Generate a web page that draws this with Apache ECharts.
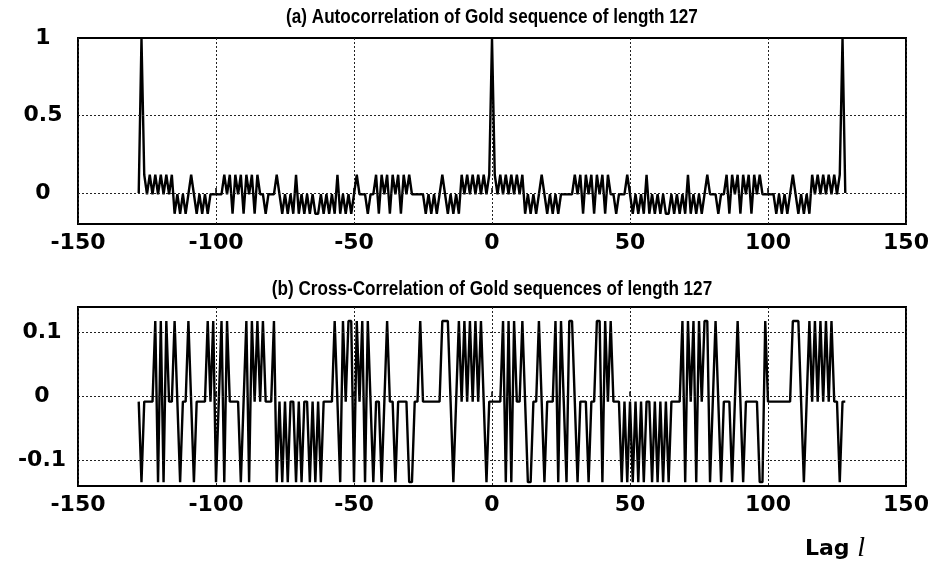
<!DOCTYPE html>
<html>
<head>
<meta charset="utf-8">
<script src="https://cdn.jsdelivr.net/npm/echarts@6/dist/echarts.min.js"></script>
<style>
  html, body { margin: 0; padding: 0; background: #fff; }
  #chart { width: 941px; height: 565px; }
</style>
</head>
<body>
<div id="chart"></div>
<script>
// Lag values shared by both panels
const lagStart = -128;

// (a) periodic autocorrelation of one Gold sequence, lags -128..128
const autoValues = [
  0, 1,
  0.118, -0.008, 0.118, -0.008, 0.118, -0.008, 0.118, -0.008, 0.118, -0.008,
  0.118, -0.134, -0.008, -0.134, -0.008, -0.134, -0.008, 0.118, -0.008, -0.134,
  -0.008, -0.134, -0.008, -0.134, -0.008, -0.008, -0.008, -0.008, -0.008, 0.118,
  -0.008, 0.118, -0.134, 0.118, -0.008, 0.118, -0.134, 0.118, -0.008, 0.118,
  -0.134, 0.118, -0.008, -0.008, -0.134, -0.008, -0.008, -0.008, 0.118, -0.008,
  -0.134, -0.008, -0.134, -0.008, -0.134, 0.118, -0.134, -0.008, -0.134, -0.008,
  -0.134, -0.008, -0.134,
  -0.134, -0.008, -0.134, -0.008, -0.134, -0.008, -0.134, 0.118, -0.134, -0.008,
  -0.134, -0.008, -0.134, -0.008, 0.118, -0.008, -0.008, -0.008, -0.134, -0.008,
  -0.008, 0.118, -0.134, 0.118, -0.008, 0.118, -0.134, 0.118, -0.008, 0.118,
  -0.134, 0.118, -0.008, 0.118, -0.008, -0.008, -0.008, -0.008, -0.008, -0.134,
  -0.008, -0.134, -0.008, -0.134, -0.008, 0.118, -0.008, -0.134, -0.008, -0.134,
  -0.008, -0.134, 0.118, -0.008, 0.118, -0.008, 0.118, -0.008, 0.118, -0.008,
  0.118, -0.008, 0.118,
  1,
  0.118, -0.008, 0.118, -0.008, 0.118, -0.008, 0.118, -0.008, 0.118, -0.008,
  0.118, -0.134, -0.008, -0.134, -0.008, -0.134, -0.008, 0.118, -0.008, -0.134,
  -0.008, -0.134, -0.008, -0.134, -0.008, -0.008, -0.008, -0.008, -0.008, 0.118,
  -0.008, 0.118, -0.134, 0.118, -0.008, 0.118, -0.134, 0.118, -0.008, 0.118,
  -0.134, 0.118, -0.008, -0.008, -0.134, -0.008, -0.008, -0.008, 0.118, -0.008,
  -0.134, -0.008, -0.134, -0.008, -0.134, 0.118, -0.134, -0.008, -0.134, -0.008,
  -0.134, -0.008, -0.134,
  -0.134, -0.008, -0.134, -0.008, -0.134, -0.008, -0.134, 0.118, -0.134, -0.008,
  -0.134, -0.008, -0.134, -0.008, 0.118, -0.008, -0.008, -0.008, -0.134, -0.008,
  -0.008, 0.118, -0.134, 0.118, -0.008, 0.118, -0.134, 0.118, -0.008, 0.118,
  -0.134, 0.118, -0.008, 0.118, -0.008, -0.008, -0.008, -0.008, -0.008, -0.134,
  -0.008, -0.134, -0.008, -0.134, -0.008, 0.118, -0.008, -0.134, -0.008, -0.134,
  -0.008, -0.134, 0.118, -0.008, 0.118, -0.008, 0.118, -0.008, 0.118, -0.008,
  0.118, -0.008, 0.118,
  1, 0
];

// (b) periodic cross-correlation of two Gold sequences, lags -128..128
const crossValues = [
  -0.008, -0.134, -0.008, -0.008, -0.008, -0.008, 0.118, -0.134, 0.118, -0.134,   // -128..-119
  0.118, -0.008, -0.008, 0.118, -0.008, -0.134, -0.008, -0.008, 0.118, -0.008,    // -118..-109
  -0.134, -0.008, -0.008, -0.008, -0.008, 0.118, -0.008, 0.118, -0.134, -0.008,   // -108..-99
  0.118, -0.134, 0.118, -0.008, -0.008, -0.008, -0.008, -0.134, -0.008, 0.118,    // -98..-89
  -0.134, 0.118, -0.008, 0.118, -0.008, 0.118, -0.008, -0.008, -0.008, 0.118,     // -88..-79
  -0.134, -0.008, -0.134, -0.008, -0.134, -0.008, -0.008, -0.134, -0.008, -0.134, // -78..-69
  -0.008, -0.008, -0.134, -0.008, -0.134, -0.008, -0.134, -0.008, -0.008, -0.008, // -68..-59
  -0.008, 0.118, -0.008, -0.134, 0.118, -0.008, 0.118, 0.118, -0.134, 0.118,      // -58..-49
  -0.008, 0.118, -0.134, 0.118, -0.008, -0.134, -0.008, -0.008, -0.134, -0.008,   // -48..-39
  0.118, -0.008, -0.008, -0.134, -0.008, -0.008, -0.008, -0.008, -0.134, -0.134,  // -38..-29
  -0.008, -0.008, 0.118, -0.008, -0.008, -0.008, -0.008, -0.008, -0.008, -0.008,  // -28..-19
  0.118, 0.118, 0.118, -0.008, -0.134, -0.008, 0.118, -0.008, 0.118, -0.008,     // -18..-9
  0.118, -0.008, 0.118, -0.008, 0.118, -0.008, -0.134, -0.008,                   // -8..-1
  -0.008, -0.008, -0.008, -0.008, 0.118, -0.134, 0.118, -0.134, 0.118, -0.008,    // 0..9
  -0.008, 0.118, -0.008, -0.134, -0.134, -0.008, -0.008, 0.118, -0.008, -0.134,   // 10..19
  -0.008, -0.008, -0.008, 0.118, -0.134, 0.118, -0.008, -0.134, 0.118, 0.118,     // 20..29
  -0.008, -0.134, -0.008, -0.008, -0.008, -0.134, -0.008, -0.008, 0.118, 0.118,   // 30..39
  -0.134, 0.118, -0.008, 0.118, -0.008, -0.008, -0.008, -0.134, -0.008, -0.134,   // 40..49
  -0.008, -0.134, -0.008, -0.134, -0.008, -0.134, -0.008, -0.008, -0.134, -0.008, // 50..59
  -0.134, -0.008, -0.134, -0.008, -0.134, -0.008, -0.008, -0.008, -0.008, 0.118,  // 60..69
  -0.134, 0.118, -0.008, 0.118, -0.134, 0.118, -0.008, 0.118, 0.118, -0.134,      // 70..79
  -0.008, 0.118, -0.008, -0.134, -0.008, -0.008, -0.008, -0.134, -0.008, 0.118,   // 80..89
  -0.008, -0.134, -0.008, -0.008, -0.008, -0.008, -0.008, -0.134, -0.134, 0.118,  // 90..99
  -0.008, -0.008, -0.008, -0.008, -0.008, -0.008, -0.008, -0.008, -0.008, 0.118,  // 100..109
  0.118, 0.118, -0.008, -0.134, -0.008, 0.118, -0.008, 0.118, -0.008, 0.118,      // 110..119
  -0.008, 0.118, -0.008, 0.118, -0.008, -0.008, -0.134, -0.008, -0.008            // 120..128
];

// Tick labels shown on each axis
const xTicks = [-150, -100, -50, 0, 50, 100, 150];
const autoYTicks = [0, 0.5, 1];
const crossYTicks = [-0.1, 0, 0.1];

const titleA = '(a) Autocorrelation of Gold sequence of length 127';
const titleB = '(b) Cross-Correlation of Gold sequences of length 127';

const TITLE_FONT = "'Liberation Sans', Arial, Helvetica, sans-serif";
const LABEL_FONT = "'DejaVu Sans', Verdana, sans-serif";

function pairs(values) {
  return values.map((v, i) => [lagStart + i, v]);
}

function yLabel(ticks) {
  return function (v) {
    for (const t of ticks) {
      if (Math.abs(v - t) < 1e-6) return String(t);
    }
    return '';
  };
}

function gridMarks(ticks) {
  return {
    silent: true,
    symbol: 'none',
    label: { show: false },
    lineStyle: { color: '#222', type: [2, 2], width: 1 },
    data: ticks.map(t => ({ yAxis: t }))
  };
}

const labelStyle = { color: '#000', fontSize: 22, fontWeight: 'bold', fontFamily: LABEL_FONT };

const xAxisBase = {
  type: 'value',
  min: -150,
  max: 150,
  interval: 50,
  axisLine: { show: false },
  axisTick: { show: true, inside: true, length: 5, lineStyle: { color: '#000', width: 1.5 } },
  axisLabel: Object.assign({}, labelStyle, {
    margin: 8,
    formatter: v => xTicks.includes(v) ? String(v) : ''
  }),
  splitLine: { show: true, lineStyle: { color: '#222', type: [2, 2], width: 1 } }
};

// Panel headings, narrowed horizontally around their centre
function titleText(text, y) {
  return {
    type: 'text', x: 492, y: y, scaleX: 0.815, silent: true,
    style: {
      text: text,
      textAlign: 'center', textVerticalAlign: 'middle',
      align: 'center', verticalAlign: 'middle',
      fontSize: 21, fontWeight: 'bold', fontFamily: TITLE_FONT, fill: '#000'
    }
  };
}

const option = {
  backgroundColor: '#fff',
  animation: false,
  grid: [
    { left: 78, right: 35, top: 38, height: 186, show: true, borderColor: '#000', borderWidth: 2, backgroundColor: '#fff' },
    { left: 78, right: 35, top: 307, height: 179, show: true, borderColor: '#000', borderWidth: 2, backgroundColor: '#fff' }
  ],
  xAxis: [
    Object.assign({}, xAxisBase, { gridIndex: 0 }),
    Object.assign({}, xAxisBase, { gridIndex: 1 })
  ],
  yAxis: [
    {
      gridIndex: 0, type: 'value', min: -0.2, max: 1, interval: 0.1,
      axisLine: { show: false }, axisTick: { show: false }, splitLine: { show: false },
      axisLabel: Object.assign({}, labelStyle, { align: 'center', margin: 35, formatter: yLabel(autoYTicks) })
    },
    {
      gridIndex: 1, type: 'value', min: -0.14, max: 0.14, interval: 0.02,
      axisLine: { show: false }, axisTick: { show: false }, splitLine: { show: false },
      axisLabel: Object.assign({}, labelStyle, { align: 'center', margin: 36, formatter: yLabel(crossYTicks) })
    }
  ],
  series: [
    {
      type: 'line', xAxisIndex: 0, yAxisIndex: 0,
      data: pairs(autoValues),
      showSymbol: false, symbol: 'none',
      lineStyle: { color: '#000', width: 2.4 },
      markLine: gridMarks([0, 0.5])
    },
    {
      type: 'line', xAxisIndex: 1, yAxisIndex: 1,
      data: pairs(crossValues),
      showSymbol: false, symbol: 'none',
      lineStyle: { color: '#000', width: 2.4 },
      markLine: gridMarks(crossYTicks)
    }
  ],
  graphic: [
    titleText(titleA, 17),
    titleText(titleB, 289),
    {
      type: 'text', left: 805, top: 535,
      style: {
        text: '{a|Lag }{b|l}',
        rich: {
          a: { fontSize: 22, fontWeight: 'bold', fontFamily: LABEL_FONT, fill: '#000' },
          b: { fontSize: 28, fontStyle: 'italic', fontFamily: "'Liberation Serif', serif", fill: '#000' }
        }
      }
    }
  ]
};

const chart = echarts.init(document.getElementById('chart'), null, { renderer: 'canvas' });
chart.setOption(option);
</script>
</body>
</html>
